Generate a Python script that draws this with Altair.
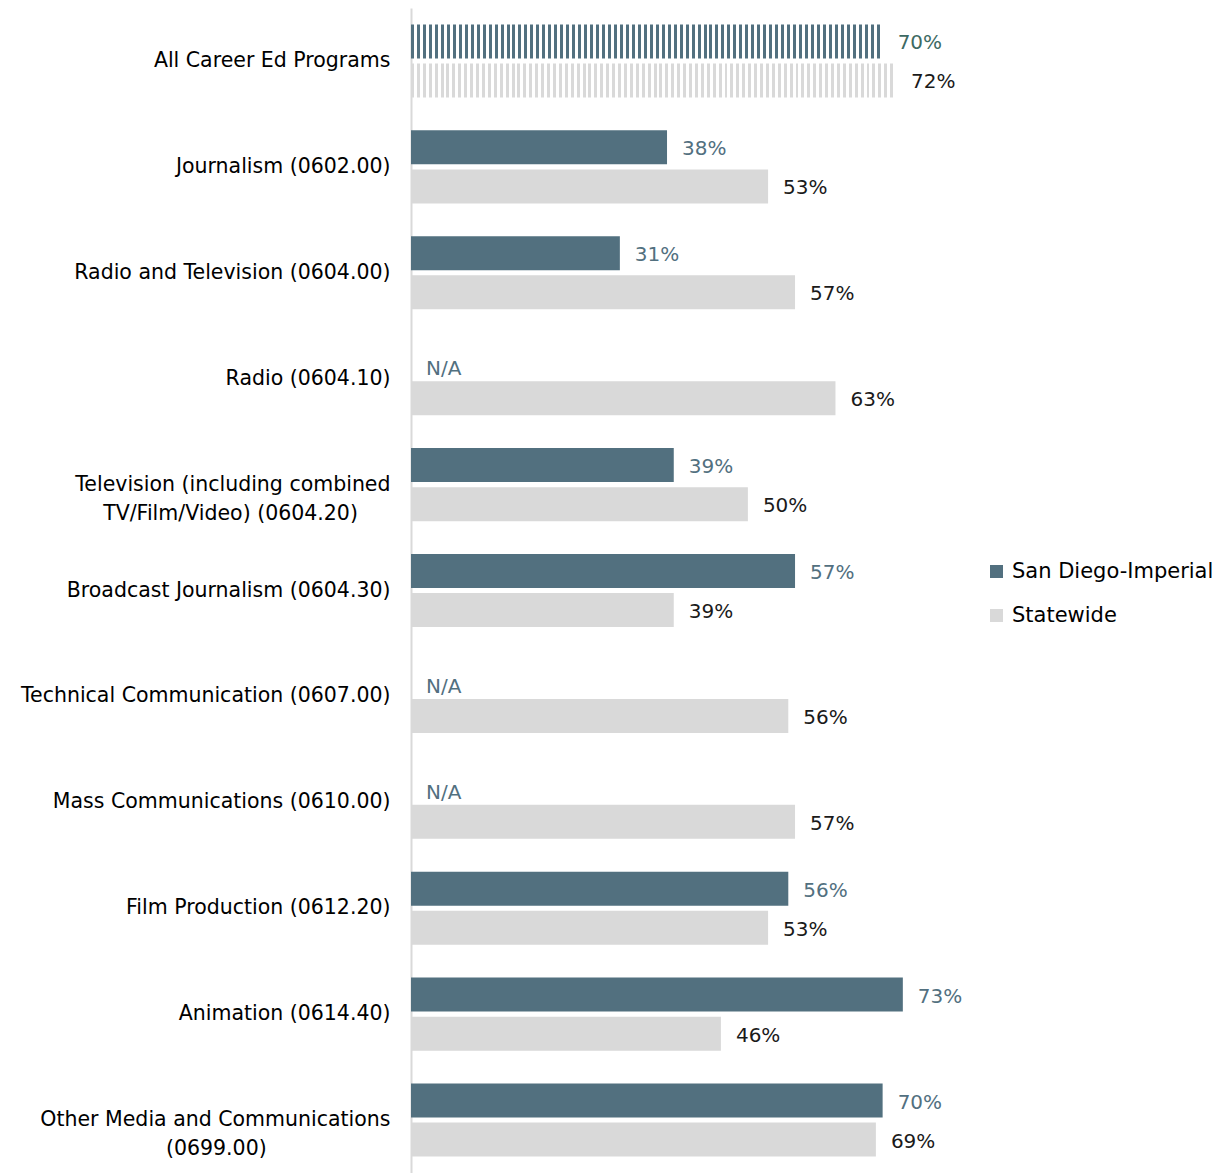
import altair as alt
import pandas as pd

NB = "\u00a0"
ZW = "\u200b"
categories = [
    "All Career Ed Programs",
    "Journalism (0602.00)",
    "Radio and Television (0604.00)",
    "Radio (0604.10)",
    "Television (including combined|TV/Film/Video) (0604.20)" + NB * 5 + ZW,
    "Broadcast Journalism (0604.30)",
    "Technical Communication (0607.00)",
    "Mass Communications (0610.00)",
    "Film Production (0612.20)",
    "Animation (0614.40)",
    "Other Media and Communications|(0699.00)" + NB * 19 + ZW,
]
series = ["San Diego-Imperial", "Statewide"]
sdi_values = [70, 38, 31, None, 39, 57, None, None, 56, 73, 70]
state_values = [72, 53, 57, 63, 50, 39, 56, 57, 53, 46, 69]

rows = []
for c, a, b in zip(categories, sdi_values, state_values):
    rows.append({"cat": c, "series": series[0], "value": a})
    rows.append({"cat": c, "series": series[1], "value": b})
df = pd.DataFrame(rows)

DARK = "#52707f"
LIGHT = "#d9d9d9"
FONT = "DejaVu Sans"


def stripes(c1, c2, width_px, period=6):
    n = int(width_px / period) + 1
    p = 1.0 / n
    stops = []
    for i in range(n):
        a, m, b = i * p, (i + 0.5) * p, (i + 1) * p
        stops += [
            alt.GradientStop(offset=a, color=c1),
            alt.GradientStop(offset=m, color=c1),
            alt.GradientStop(offset=m, color=c2),
            alt.GradientStop(offset=min(b, 1.0), color=c2),
        ]
    return alt.LinearGradient(gradient="linear", stops=stops, x1=0, x2=1, y1=0, y2=0)


y_enc = alt.Y(
    "cat:N",
    sort=categories,
    scale=alt.Scale(paddingInner=0.31, paddingOuter=0.155),
    axis=alt.Axis(
        title=None,
        labelExpr="split(datum.label, '|')",
        labelFontSize=20.5,
        labelColor="#000000",
        labelPadding=21,
        labelLineHeight=29,
        labelLimit=450,
        ticks=False,
        domain=True,
        domainColor=LIGHT,
        domainWidth=2,
        grid=False,
    ),
)
yoff_enc = alt.YOffset("series:N", sort=series, scale=alt.Scale(paddingInner=0.13, paddingOuter=0))
x_enc = alt.X("value:Q", scale=alt.Scale(domain=[0, 80]), axis=None)

base = alt.Chart(df)

bars = base.mark_bar().encode(
    y=y_enc,
    yOffset=yoff_enc,
    x=x_enc,
    color=alt.Color(
        "series:N",
        sort=series,
        scale=alt.Scale(domain=series, range=[DARK, LIGHT]),
        legend=alt.Legend(
            title=None,
            orient="none",
            legendX=575,
            legendY=553,
            symbolType="square",
            symbolSize=170,
            symbolStrokeWidth=0,
            labelFontSize=21,
            labelColor="#000000",
            labelLimit=300,
            rowPadding=22,
            labelOffset=5,
        ),
    ),
).transform_filter(alt.datum.cat != categories[0])

pat_sdi = base.mark_bar(fill=stripes(DARK, "#ffffff", 472)).encode(
    y=y_enc, yOffset=yoff_enc, x=x_enc
).transform_filter((alt.datum.cat == categories[0]) & (alt.datum.series == series[0]))

pat_state = base.mark_bar(fill=stripes(LIGHT, "#ffffff", 486)).encode(
    y=y_enc, yOffset=yoff_enc, x=x_enc
).transform_filter((alt.datum.cat == categories[0]) & (alt.datum.series == series[1]))

lab_base = base.transform_calculate(
    labx="isValid(datum.value) ? datum.value : 0",
    lab="isValid(datum.value) ? datum.value + '%' : 'N/A'",
    tc="datum.series == '%s' ? (datum.cat == '%s' ? '#3d6a63' : '#52707f') : '#1a1a1a'"
    % (series[0], categories[0]),
)
lab_enc = dict(
    y=y_enc,
    yOffset=yoff_enc,
    x=alt.X("labx:Q", scale=alt.Scale(domain=[0, 80]), axis=None),
    text="lab:N",
    color=alt.Color("tc:N", scale=None),
)
labels = lab_base.transform_filter("isValid(datum.value)").mark_text(
    align="left", baseline="middle", dx=15, dy=2, fontSize=20
).encode(**lab_enc)
na_labels = lab_base.transform_filter("!isValid(datum.value)").mark_text(
    align="left", baseline="middle", dx=15, dy=10, fontSize=20
).encode(**lab_enc)

chart = (
    alt.layer(bars, pat_sdi, pat_state, labels, na_labels)
    .properties(
        width=539,
        height=1165,
        autosize=alt.AutoSizeParams(type="none"),
        padding={"left": 403, "top": 0, "right": 265, "bottom": 0},
    )
    .configure(font=FONT)
    .configure_view(stroke=None)
)

chart.save("out.html", embed_options={"renderer": "svg", "actions": False})
